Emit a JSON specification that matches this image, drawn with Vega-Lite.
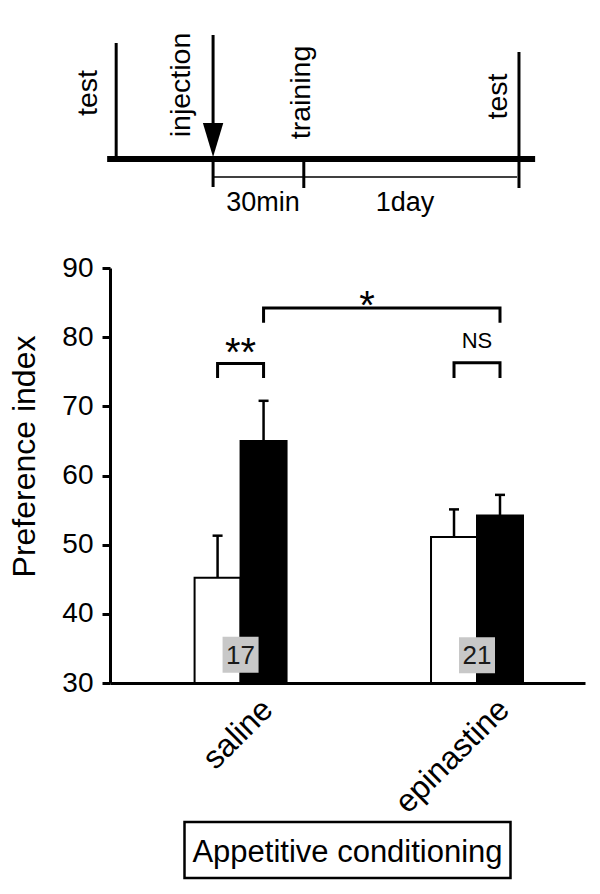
{
  "$schema": "https://vega.github.io/schema/vega-lite/v6.json",
  "background": "white",
  "padding": {"left": 8, "top": 29, "right": 17, "bottom": 12},
  "config": {
    "font": "Liberation Sans",
    "text": {"font": "Liberation Sans", "color": "black"},
    "axis": {"labelFont": "Liberation Sans", "titleFont": "Liberation Sans", "labelColor": "black", "titleColor": "black"}
  },
  "datasets": {
    "segments_main": [{"x": -0.6, "x2": 89.5, "y": 0}],
    "segments_vert": [
      {"x": 1.3, "y": 0, "y2": 116},
      {"x": 21.7, "y": 35, "y2": 124},
      {"x": 21.7, "y": -28, "y2": 0},
      {"x": 40.8, "y": -29, "y2": 0},
      {"x": 86.1, "y": -29, "y2": 107}
    ],
    "segments_thin": [{"x": 21.7, "x2": 85.7, "y": -18}],
    "arrowhead": [{"x": 21.7, "y": 19}],
    "events": [
      {"x": -4.6, "y": 66, "label": "test"},
      {"x": 14.9, "y": 74, "label": "injection"},
      {"x": 40.3, "y": 66.5, "label": "training"},
      {"x": 81.7, "y": 62.5, "label": "test"}
    ],
    "intervals": [
      {"x": 32.2, "y": -52, "label": "30min"},
      {"x": 62.1, "y": -52, "label": "1day"}
    ],
    "bars": [
      {"group": "saline", "cond": "pre", "value": 45.2, "upper": 51.3},
      {"group": "saline", "cond": "post", "value": 65.0, "upper": 70.8},
      {"group": "epinastine", "cond": "pre", "value": 51.1, "upper": 55.1},
      {"group": "epinastine", "cond": "post", "value": 54.2, "upper": 57.2}
    ],
    "counts": [
      {"group": "saline", "n": "17", "value": 34.1},
      {"group": "epinastine", "n": "21", "value": 34.0}
    ],
    "brackets": [
      {"id": "a", "seq": 1, "group": "saline", "cond": "pre", "value": 74.1},
      {"id": "a", "seq": 2, "group": "saline", "cond": "pre", "value": 76.2},
      {"id": "a", "seq": 3, "group": "saline", "cond": "post", "value": 76.2},
      {"id": "a", "seq": 4, "group": "saline", "cond": "post", "value": 74.1},
      {"id": "b", "seq": 1, "group": "saline", "cond": "post", "value": 82.1},
      {"id": "b", "seq": 2, "group": "saline", "cond": "post", "value": 84.2},
      {"id": "b", "seq": 3, "group": "epinastine", "cond": "post", "value": 84.2},
      {"id": "b", "seq": 4, "group": "epinastine", "cond": "post", "value": 82.1},
      {"id": "c", "seq": 1, "group": "epinastine", "cond": "pre", "value": 74.1},
      {"id": "c", "seq": 2, "group": "epinastine", "cond": "pre", "value": 76.3},
      {"id": "c", "seq": 3, "group": "epinastine", "cond": "post", "value": 76.3},
      {"id": "c", "seq": 4, "group": "epinastine", "cond": "post", "value": 74.1}
    ],
    "sig_within": [{"group": "saline", "label": "**", "value": 75.9}],
    "sig_ns": [{"group": "epinastine", "label": "NS", "value": 78.4}],
    "sig_between": [{"group": "saline", "label": "*", "value": 82.6}],
    "panel_label": [{"label": "Appetitive conditioning"}]
  },
  "vconcat": [
    {
      "width": 475,
      "height": 100,
      "view": {"stroke": null},
      "encoding": {
        "x": {"field": "x", "type": "quantitative", "scale": {"domain": [0, 100]}, "axis": null},
        "y": {"field": "y", "type": "quantitative", "scale": {"domain": [30, 130]}, "axis": null}
      },
      "layer": [
        {
          "data": {"name": "segments_main"},
          "mark": {"type": "rule", "strokeWidth": 6, "color": "black"},
          "encoding": {"x2": {"field": "x2"}}
        },
        {
          "data": {"name": "segments_vert"},
          "mark": {"type": "rule", "strokeWidth": 3, "color": "black"},
          "encoding": {"y2": {"field": "y2"}}
        },
        {
          "data": {"name": "segments_thin"},
          "mark": {"type": "rule", "strokeWidth": 1.5, "color": "black"},
          "encoding": {"x2": {"field": "x2"}}
        },
        {
          "data": {"name": "arrowhead"},
          "mark": {"type": "point", "shape": "M-0.6,-1L0.6,-1L0,1Z", "size": 1156, "filled": true, "color": "black", "opacity": 1, "strokeWidth": 0}
        },
        {
          "data": {"name": "events"},
          "mark": {"type": "text", "angle": 270, "fontSize": 28.5, "align": "center", "baseline": "middle"},
          "encoding": {"text": {"field": "label"}}
        },
        {
          "data": {"name": "intervals"},
          "mark": {"type": "text", "fontSize": 27, "align": "center", "baseline": "alphabetic"},
          "encoding": {"text": {"field": "label"}}
        }
      ]
    },
    {
      "width": 475,
      "height": 415,
      "view": {"stroke": null},
      "encoding": {
        "x": {
          "field": "group",
          "type": "nominal",
          "scale": {"domain": ["saline", "epinastine"], "paddingInner": 0.611, "paddingOuter": 0.31, "align": 0.577},
          "axis": {
            "title": null,
            "labelAngle": -45,
            "labelAlign": "right",
            "labelBaseline": "middle",
            "labelFontSize": 32,
            "labelOffset": 27,
            "labelPadding": 21,
            "ticks": false,
            "domainWidth": 3,
            "domainColor": "black"
          }
        },
        "y": {
          "field": "value",
          "type": "quantitative",
          "scale": {"domain": [30, 90], "nice": false, "zero": false},
          "axis": {
            "values": [30, 40, 50, 60, 70, 80, 90],
            "title": "Preference index",
            "titleFontSize": 32,
            "titleFontWeight": "normal",
            "titlePadding": 20,
            "titleY": 188,
            "labelFontSize": 28,
            "labelPadding": 9,
            "tickSize": 8,
            "tickWidth": 3,
            "tickColor": "black",
            "domainWidth": 3,
            "domainColor": "black",
            "grid": false
          }
        }
      },
      "layer": [
        {
          "data": {"name": "bars"},
          "mark": {"type": "bar", "stroke": "black", "strokeWidth": 2},
          "encoding": {
            "xOffset": {"field": "cond", "type": "nominal", "scale": {"domain": ["pre", "post"], "paddingInner": 0, "paddingOuter": 0}},
            "y2": {"datum": 30},
            "fill": {"field": "cond", "type": "nominal", "scale": {"domain": ["pre", "post"], "range": ["white", "black"]}, "legend": null}
          }
        },
        {
          "data": {"name": "bars"},
          "mark": {"type": "rule", "strokeWidth": 2.5, "color": "black"},
          "encoding": {
            "xOffset": {"field": "cond", "type": "nominal", "scale": {"domain": ["pre", "post"], "paddingInner": 0, "paddingOuter": 0}},
            "y2": {"field": "upper"}
          }
        },
        {
          "data": {"name": "bars"},
          "mark": {"type": "tick", "size": 10, "thickness": 2.5, "color": "black", "opacity": 1},
          "encoding": {
            "xOffset": {"field": "cond", "type": "nominal", "scale": {"domain": ["pre", "post"], "paddingInner": 0, "paddingOuter": 0}},
            "y": {"field": "upper", "type": "quantitative", "scale": {"domain": [30, 90], "nice": false, "zero": false}}
          }
        },
        {
          "data": {"name": "counts"},
          "mark": {"type": "point", "shape": "square", "size": 1296, "filled": true, "color": "#c8c8c8", "opacity": 1, "strokeWidth": 0}
        },
        {
          "data": {"name": "counts"},
          "mark": {"type": "text", "fontSize": 26, "color": "#1a1a1a", "baseline": "middle", "dy": 1},
          "encoding": {"text": {"field": "n"}}
        },
        {
          "data": {"name": "brackets"},
          "mark": {"type": "line", "strokeWidth": 3, "color": "black", "strokeJoin": "miter", "strokeCap": "butt"},
          "encoding": {
            "xOffset": {"field": "cond", "type": "nominal", "scale": {"domain": ["pre", "post"], "paddingInner": 0, "paddingOuter": 0}},
            "detail": {"field": "id"},
            "order": {"field": "seq"}
          }
        },
        {
          "data": {"name": "sig_within"},
          "mark": {"type": "text", "fontSize": 40, "baseline": "alphabetic"},
          "encoding": {"text": {"field": "label"}}
        },
        {
          "data": {"name": "sig_ns"},
          "mark": {"type": "text", "fontSize": 22, "baseline": "alphabetic"},
          "encoding": {"text": {"field": "label"}}
        },
        {
          "data": {"name": "sig_between"},
          "mark": {"type": "text", "fontSize": 40, "baseline": "alphabetic"},
          "encoding": {
            "x": {"field": "group", "type": "nominal", "bandPosition": 1.875},
            "text": {"field": "label"}
          }
        }
      ]
    },
    {
      "width": 326,
      "height": 56,
      "view": {"stroke": "black", "strokeWidth": 2.5, "fill": "white"},
      "data": {"name": "panel_label"},
      "mark": {"type": "text", "fontSize": 31, "baseline": "middle", "dy": 3},
      "encoding": {"text": {"field": "label"}}
    }
  ],
  "spacing": 139,
  "center": true,
  "bounds": "flush"
}
